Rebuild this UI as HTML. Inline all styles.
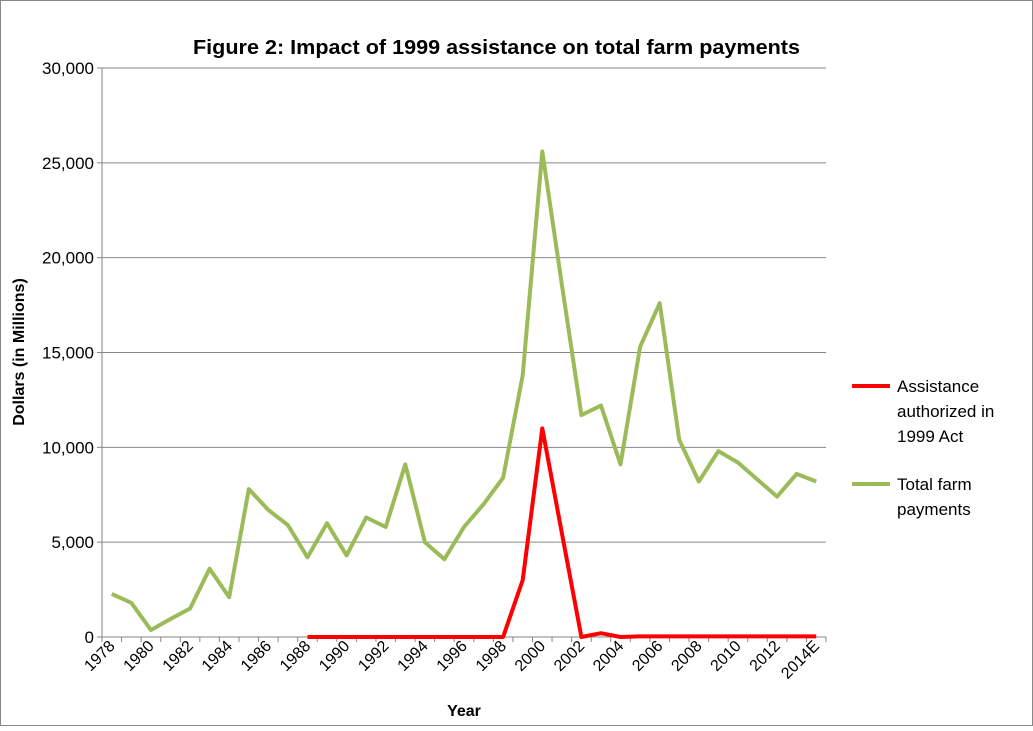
<!DOCTYPE html>
<html><head><meta charset="utf-8"><style>
body{margin:0;background:#fff;font-family:"Liberation Sans",Arial,sans-serif}
</style></head><body>
<svg width="1033" height="726" viewBox="0 0 1033 726" xmlns="http://www.w3.org/2000/svg">
<rect x="0.5" y="0.5" width="1032" height="725" fill="#fff" stroke="#888"/>
<text x="193" y="54" textLength="607" lengthAdjust="spacingAndGlyphs" font-size="20" font-weight="bold" fill="#000">Figure 2: Impact of 1999 assistance on total farm payments</text>
<g id="grid"></g><g id="axes"></g><g id="series"></g>
<text transform="translate(24,352) rotate(-90)" text-anchor="middle" font-size="16" font-weight="bold">Dollars (in Millions)</text>
<text x="464" y="716" text-anchor="middle" font-size="16" font-weight="bold">Year</text>
<g>
<line x1="852" y1="386" x2="890" y2="386" stroke="#ff0000" stroke-width="4"/>
<text font-size="17" fill="#000"><tspan x="897" y="392">Assistance</tspan><tspan x="897" y="417">authorized in</tspan><tspan x="897" y="442">1999 Act</tspan></text>
<line x1="852" y1="484" x2="890" y2="484" stroke="#9bbb59" stroke-width="4"/>
<text font-size="17" fill="#000"><tspan x="897" y="490">Total farm</tspan><tspan x="897" y="515">payments</tspan></text>
</g>
</svg>
<script>
const years=["1978","1979","1980","1981","1982","1983","1984","1985","1986","1987","1988","1989","1990","1991","1992","1993","1994","1995","1996","1997","1998","1999","2000","2001","2002","2003","2004","2005","2006","2007","2008","2009","2010","2011","2012","2013","2014E"];
const totalPayments=[2270,1800,370,950,1500,3600,2100,7800,6700,5900,4200,6000,4300,6300,5800,9100,5000,4100,5800,7000,8400,13800,25600,18600,11700,12200,9100,15300,17600,10400,8200,9800,9200,8300,7400,8600,8200];
const assistance=[null,null,null,null,null,null,null,null,null,null,0,0,0,0,0,0,0,0,0,0,0,3000,11000,5500,0,200,0,30,30,30,30,30,30,30,30,30,30];
const yTicks=[0,5000,10000,15000,20000,25000,30000];
const yTickLabels=["0","5,000","10,000","15,000","20,000","25,000","30,000"];
const NS="http://www.w3.org/2000/svg";
const pL=102,pR=826,pT=68,pB=637,yMax=30000;
const band=(pR-pL)/years.length;
function xS(i){return pL+band*(i+0.5);}
function yS(v){return pB-(v/yMax)*(pB-pT);}
function mk(tag,attrs,parent){const e=document.createElementNS(NS,tag);for(const k in attrs)e.setAttribute(k,attrs[k]);document.getElementById(parent).appendChild(e);return e;}
yTicks.forEach((t,i)=>{
 if(t>0){const g=mk('line',{x1:pL,x2:pR,y1:yS(t),y2:yS(t),stroke:'#868686','stroke-width':1},'grid');
 
 }
 const tx=mk('text',{x:pL-8,y:yS(t)+6,'text-anchor':'end','font-size':17},'axes');tx.textContent=yTickLabels[i];
 
 
 const tk=mk('line',{x1:pL-5,x2:pL,y1:yS(t),y2:yS(t),stroke:'#868686'},'axes');
 
 
});
const ya=mk('line',{x1:pL,x2:pL,y1:pT,y2:pB,stroke:'#868686'},'axes');


const xa=mk('line',{x1:pL,x2:pR,y1:pB,y2:pB,stroke:'#868686'},'axes');


for(let i=0;i<=years.length;i++){
 const tk=mk('line',{x1:pL+band*i,x2:pL+band*i,y1:pB,y2:pB+5,stroke:'#868686'},'axes');
 
 
}
years.forEach((y,i)=>{
 if(i%2!==0&&i!==years.length-1)return;
 const x=xS(i)+4,yy=pB+10;
 const t=mk('text',{x:x,y:yy,'text-anchor':'end','font-size':16,transform:`rotate(-45 ${x} ${yy})`},'axes');t.textContent=y;
 
 
});
function line(arr,color,name){
 const pts=[];arr.forEach((v,i)=>{if(v!==null)pts.push(xS(i).toFixed(1)+','+yS(v).toFixed(1));});
 const p=mk('polyline',{points:pts.join(' '),fill:'none',stroke:color,'stroke-width':4,'stroke-linejoin':'round'},'series');
 
 
}
line(totalPayments,'#9bbb59','total-farm-payments-line');
line(assistance,'#ff0000','assistance-1999-line');
</script>
</body></html>
